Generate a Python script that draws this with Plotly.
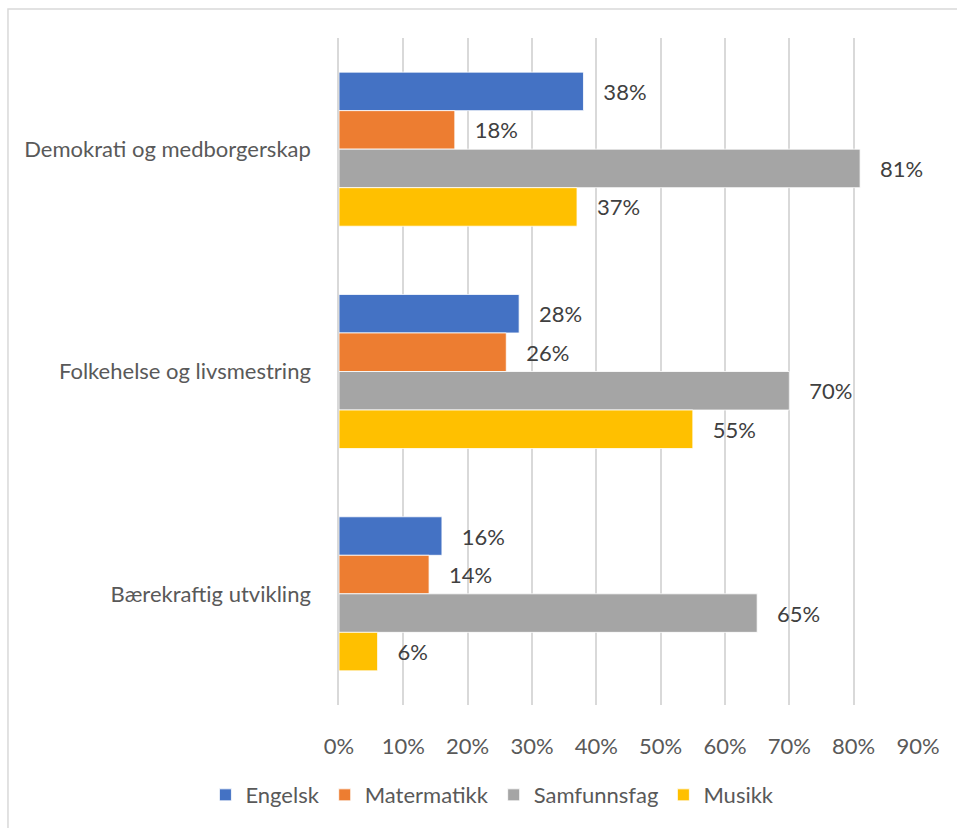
import plotly.graph_objects as go

categories = ["Demokrati og medborgerskap", "Folkehelse og livsmestring", "Bærekraftig utvikling"]
series_names = ["Engelsk", "Matermatikk", "Samfunnsfag", "Musikk"]
engelsk = [0.38, 0.28, 0.16]
matematikk = [0.18, 0.26, 0.14]
samfunnsfag = [0.81, 0.70, 0.65]
musikk = [0.37, 0.55, 0.06]
colors = ["#4472C4", "#ED7D31", "#A5A5A5", "#FFC000"]
x_ticks = [0, 0.1, 0.2, 0.3, 0.4, 0.5, 0.6, 0.7, 0.8, 0.9]

font_family = "Lato, 'Open Sans', sans-serif"
fs = 22

fig = go.Figure()
for name, vals, col in zip(series_names, [engelsk, matematikk, samfunnsfag, musikk], colors):
    fig.add_trace(go.Bar(
        y=categories, x=vals, name=name, orientation="h",
        marker=dict(color=col, line=dict(color="white", width=0.8)),
        # non-breaking spaces push the value labels a little away from the bar ends
        text=["\u00a0\u00a0\u00a0" + f"{v:.0%}" for v in vals], textposition="outside",
        textfont=dict(size=fs, color="#404040", family=font_family),
        cliponaxis=False,
    ))

fig.update_layout(
    width=957, height=828,
    margin=dict(l=339, r=39, t=38, b=123),
    paper_bgcolor="white", plot_bgcolor="white",
    barmode="group", bargap=0.307, bargroupgap=0,
    font=dict(family=font_family, size=fs, color="#595959"),
    showlegend=True,
    legend=dict(orientation="h", x=0.265, xanchor="center", y=-0.135, yanchor="middle",
                font=dict(size=fs, color="#595959"), traceorder="normal"),
    xaxis=dict(range=[0, 0.9], tickvals=x_ticks, tickformat=".0%",
               showgrid=True, gridcolor="#D9D9D9", gridwidth=1.5,
               zeroline=False, showline=False, ticks="",
               ticklabelstandoff=26, tickfont=dict(size=fs, color="#595959")),
    yaxis=dict(autorange="reversed", showgrid=False, showline=True,
               linecolor="#D9D9D9", linewidth=1.5, ticks="",
               ticklabelstandoff=22, tickfont=dict(size=fs, color="#595959")),
    shapes=[dict(type="rect", xref="paper", yref="paper",
                 x0=-0.5717, x1=1.2, y0=-0.3, y1=1.0435,
                 line=dict(color="#D9D9D9", width=1.5), fillcolor="rgba(0,0,0,0)",
                 layer="below")],
)

fig.write_html("out.html")
